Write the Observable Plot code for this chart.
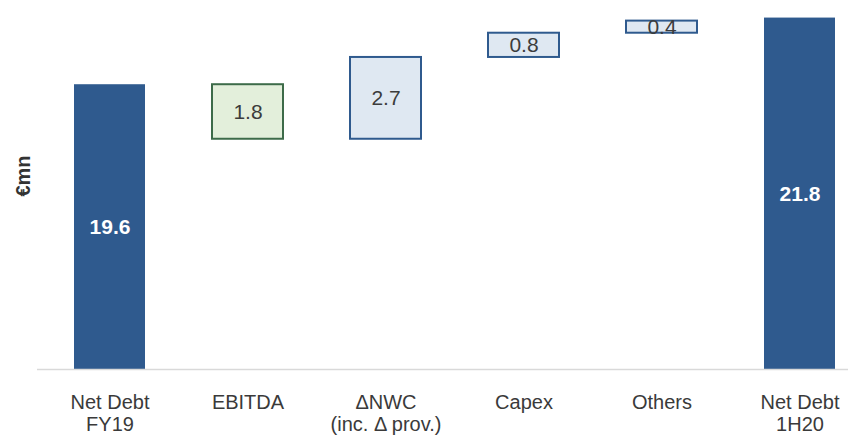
<!DOCTYPE html>
<html>
<head>
<meta charset="utf-8">
<script src="https://cdn.jsdelivr.net/npm/d3@7"></script>
<script src="https://cdn.jsdelivr.net/npm/@observablehq/plot@0.6"></script>
<style>
  html, body { margin: 0; padding: 0; background: #ffffff; }
</style>
</head>
<body>
<div id="chart"></div>
<script>
// Net debt bridge, FY19 to 1H20 (€mn)
const categories = ["Net Debt\nFY19", "EBITDA", "ΔNWC\n(inc. Δ prov.)", "Capex", "Others", "Net Debt\n1H20"];
const changes = [19.6, -1.8, 2.7, 0.8, 0.4, 21.8];
const kinds = ["total", "decrease", "increase", "increase", "increase", "total"];
const valueLabels = ["19.6", "1.8", "2.7", "0.8", "0.4", "21.8"];

// Value axis is truncated: the baseline sits above zero
const yFloor = 10.2;
const yCeil = 22.38;

// Build floating segments for the waterfall
let running = 0;
const rows = categories.map((c, i) => {
  let lo, hi;
  if (kinds[i] === "total") {
    lo = yFloor; hi = changes[i]; running = changes[i];
  } else {
    const start = running, end = running + changes[i];
    lo = Math.min(start, end); hi = Math.max(start, end); running = end;
  }
  return {category: c, lo, hi, kind: kinds[i], label: valueLabels[i], mid: (lo + hi) / 2};
});

const fills = {total: "#2f5a8e", decrease: "#e3efdb", increase: "#dfe8f2"};
const strokes = {total: "#2f5a8e", decrease: "#3d6b49", increase: "#2f5a8e"};

const chart = Plot.plot({
  width: 848,
  height: 435,
  marginLeft: 37,
  marginRight: 0,
  marginTop: 0,
  marginBottom: 66,
  style: {fontFamily: "'Liberation Sans', Arial, Helvetica, sans-serif", background: "#ffffff"},
  x: {type: "band", domain: categories, range: [37, 871], paddingInner: 0.488, paddingOuter: 0.2525},
  y: {domain: [yFloor, yCeil], axis: null},
  marks: [
    Plot.barY(rows, {
      x: "category", y1: "lo", y2: "hi",
      fill: d => fills[d.kind],
      stroke: d => strokes[d.kind],
      strokeWidth: d => d.kind === "total" ? 0 : 2
    }),
    Plot.ruleY([yFloor], {stroke: "#d9d9d9", strokeWidth: 1.5}),
    Plot.text(rows.filter(d => d.kind !== "total"), {
      x: "category", y: "mid", text: "label",
      fill: "#3c3c3c", fontSize: 21, textAnchor: "middle", lineAnchor: "middle"
    }),
    Plot.text(rows.filter(d => d.kind === "total"), {
      x: "category", y: "mid", text: "label",
      fill: "#ffffff", fontSize: 21, fontWeight: "bold", textAnchor: "middle", lineAnchor: "middle"
    }),
    Plot.axisX({
      tickSize: 0, tickPadding: 24, fontSize: 20, lineHeight: 1.1,
      color: "#3a3a3a", label: null
    }),
    Plot.text(["€mn"], {
      frameAnchor: "left", dx: -14, dy: -9, rotate: -90,
      textAnchor: "middle", lineAnchor: "middle",
      fontSize: 20, fontWeight: "bold", fill: "#333333"
    })
  ]
});

document.getElementById("chart").appendChild(chart);
</script>
</body>
</html>
